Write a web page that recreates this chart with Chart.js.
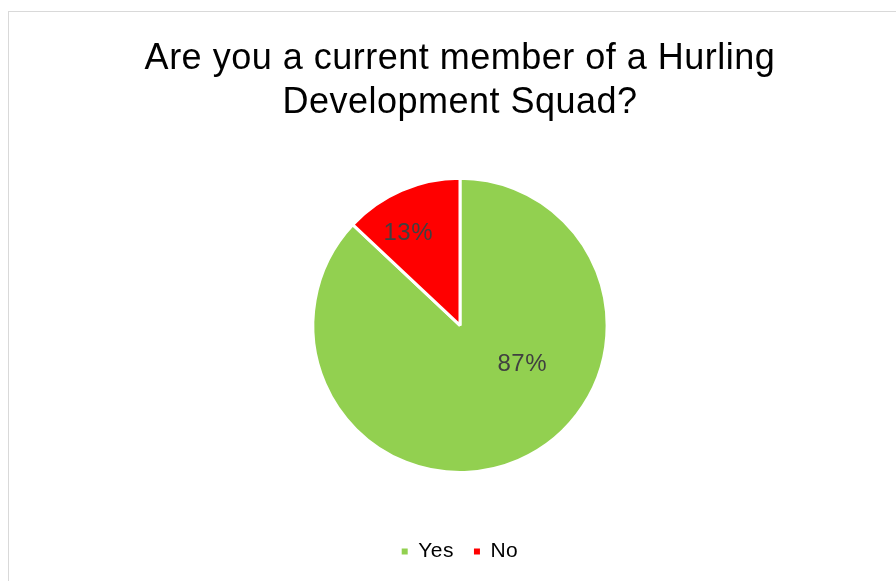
<!DOCTYPE html>
<html>
<head>
<meta charset="utf-8">
<title>Hurling Development Squad</title>
<script src="https://cdn.jsdelivr.net/npm/chart.js@4.4.0/dist/chart.umd.min.js"></script>
<style>
  html, body { margin: 0; padding: 0; background: #fff; overflow: hidden; }
  #frame {
    position: absolute;
    left: 8px;
    top: 11px;
    width: 960px;
    height: 640px;
    border: 1px solid #d9d9d9;
  }
  #pie { display: block; }
</style>
</head>
<body>
<div id="frame">
  <canvas id="pie" width="902" height="560"></canvas>
</div>
<script>
const labels = ['Yes', 'No'];
const percents = [87, 13];
const colours = ['#92D050', '#FF0000'];

// where each percentage sits inside its slice (share of the sweep, share of the radius)
const labelSpots = [
    { along: 0.39, out: 0.50 },
    { along: 0.375, out: 0.72 }
];

const font = '"Liberation Sans", Arial, sans-serif';

const sliceLabels = {
    id: 'sliceLabels',
    afterDatasetsDraw(chart) {
        const ctx = chart.ctx;
        const meta = chart.getDatasetMeta(0);
        ctx.save();
        ctx.letterSpacing = '0.5px';
        ctx.font = '24px ' + font;
        ctx.fillStyle = '#404040';
        ctx.textAlign = 'center';
        ctx.textBaseline = 'middle';
        meta.data.forEach(function(arc, i) {
            const p = arc.getProps(['x', 'y', 'startAngle', 'endAngle', 'outerRadius']);
            const spot = labelSpots[i];
            const a = p.startAngle + (p.endAngle - p.startAngle) * spot.along;
            const r = p.outerRadius * spot.out;
            ctx.fillText(percents[i] + '%', p.x + Math.cos(a) * r, p.y + Math.sin(a) * r);
        });
        ctx.restore();
    }
};

const pie = new Chart(document.getElementById('pie').getContext('2d'), {
    type: 'pie',
    data: {
        labels: labels,
        datasets: [{
            data: percents,
            backgroundColor: colours,
            borderColor: '#ffffff',
            borderWidth: 3
        }]
    },
    options: {
        responsive: false,
        animation: false,
        devicePixelRatio: 1,
        radius: '75.8%',
        plugins: {
            title: {
                display: true,
                text: ['Are you a current member of a Hurling', 'Development Squad?'],
                color: '#000000',
                font: { family: font, size: 36, weight: 'normal', lineHeight: 1.22 },
                padding: { top: 25, bottom: 5 }
            },
            legend: {
                position: 'bottom',
                labels: {
                    color: '#000000',
                    font: { family: font, size: 21 },
                    boxWidth: 6,
                    boxHeight: 6,
                    padding: 20,
                    // plain squares, without the slice border
                    generateLabels(chart) {
                        return Chart.overrides.pie.plugins.legend.labels.generateLabels(chart).map(function(item) {
                            item.lineWidth = 0;
                            item.strokeStyle = item.fillStyle;
                            return item;
                        });
                    }
                }
            },
            tooltip: { enabled: false }
        }
    },
    plugins: [sliceLabels]
});

// slightly wider glyph spacing for the title and legend text, then lay out again
pie.ctx.letterSpacing = '0.5px';
pie.update();
</script>
</body>
</html>
